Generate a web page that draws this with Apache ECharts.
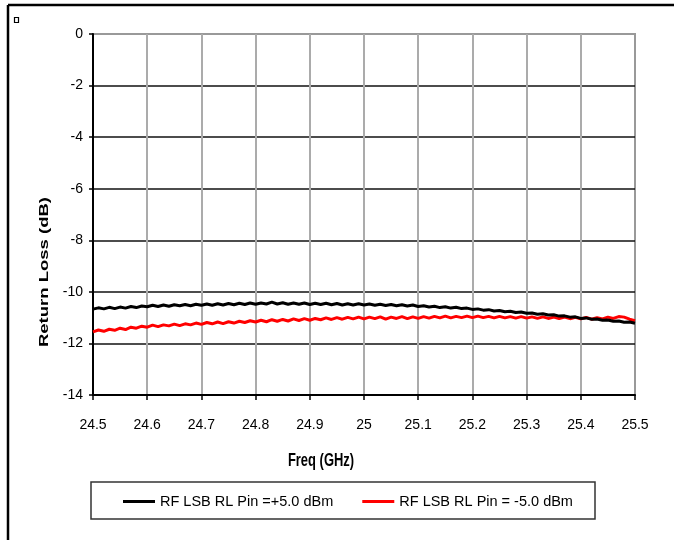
<!DOCTYPE html>
<html>
<head>
<meta charset="utf-8">
<script src="https://cdn.jsdelivr.net/npm/echarts@6/dist/echarts.min.js"></script>
<style>
  html, body { margin: 0; padding: 0; background: #fff; }
  #chart { width: 674px; height: 540px; }
</style>
</head>
<body>
<div id="chart"></div>
<script>
// Frequency sweep points (GHz)
const freqGHz = [
  24.50, 24.51, 24.52, 24.53, 24.54, 24.55, 24.56, 24.57, 24.58, 24.59,
  24.60, 24.61, 24.62, 24.63, 24.64, 24.65, 24.66, 24.67, 24.68, 24.69,
  24.70, 24.71, 24.72, 24.73, 24.74, 24.75, 24.76, 24.77, 24.78, 24.79,
  24.80, 24.81, 24.82, 24.83, 24.84, 24.85, 24.86, 24.87, 24.88, 24.89,
  24.90, 24.91, 24.92, 24.93, 24.94, 24.95, 24.96, 24.97, 24.98, 24.99,
  25.00, 25.01, 25.02, 25.03, 25.04, 25.05, 25.06, 25.07, 25.08, 25.09,
  25.10, 25.11, 25.12, 25.13, 25.14, 25.15, 25.16, 25.17, 25.18, 25.19,
  25.20, 25.21, 25.22, 25.23, 25.24, 25.25, 25.26, 25.27, 25.28, 25.29,
  25.30, 25.31, 25.32, 25.33, 25.34, 25.35, 25.36, 25.37, 25.38, 25.39,
  25.40, 25.41, 25.42, 25.43, 25.44, 25.45, 25.46, 25.47, 25.48, 25.49,
  25.50
];

// RF LSB return loss, Pin = +5.0 dBm (dB)
const rlPlus5 = [
  -10.67, -10.62, -10.66, -10.60, -10.65, -10.59, -10.63, -10.57, -10.61, -10.55,
  -10.58, -10.52, -10.57, -10.51, -10.56, -10.50, -10.54, -10.49, -10.54, -10.48,
  -10.52, -10.47, -10.52, -10.46, -10.51, -10.45, -10.50, -10.44, -10.49, -10.43,
  -10.48, -10.43, -10.47, -10.40, -10.47, -10.42, -10.48, -10.43, -10.48, -10.43,
  -10.49, -10.44, -10.49, -10.44, -10.50, -10.45, -10.51, -10.46, -10.51, -10.46,
  -10.51, -10.47, -10.52, -10.48, -10.53, -10.49, -10.54, -10.50, -10.55, -10.51,
  -10.57, -10.54, -10.59, -10.56, -10.61, -10.58, -10.63, -10.60, -10.65, -10.63,
  -10.68, -10.66, -10.71, -10.69, -10.74, -10.72, -10.77, -10.75, -10.80, -10.78,
  -10.83, -10.82, -10.87, -10.85, -10.90, -10.89, -10.94, -10.93, -10.98, -10.97,
  -11.03, -11.01, -11.06, -11.05, -11.10, -11.09, -11.14, -11.13, -11.18, -11.17,
  -11.22
];

// RF LSB return loss, Pin = -5.0 dBm (dB)
const rlMinus5 = [
  -11.55, -11.48, -11.53, -11.45, -11.49, -11.41, -11.46, -11.37, -11.41, -11.33,
  -11.37, -11.29, -11.35, -11.28, -11.32, -11.25, -11.31, -11.24, -11.28, -11.21,
  -11.26, -11.19, -11.24, -11.17, -11.23, -11.16, -11.21, -11.14, -11.19, -11.12,
  -11.17, -11.10, -11.16, -11.08, -11.14, -11.07, -11.13, -11.05, -11.11, -11.04,
  -11.10, -11.03, -11.08, -11.01, -11.07, -11.00, -11.06, -10.99, -11.05, -10.98,
  -11.05, -10.98, -11.04, -10.97, -11.06, -10.98, -11.03, -10.96, -11.04, -10.97,
  -11.03, -10.96, -11.02, -10.95, -11.01, -10.94, -11.01, -10.95, -11.00, -10.94,
  -11.00, -10.94, -11.00, -10.95, -11.01, -10.95, -11.01, -10.96, -11.02, -10.96,
  -11.02, -10.97, -11.03, -10.97, -11.03, -10.98, -11.04, -10.98, -11.04, -10.99,
  -11.05, -10.99, -11.06, -11.00, -11.05, -10.98, -11.03, -10.96, -10.98, -11.06,
  -11.12
];

const seriesNames = ['RF LSB RL Pin =+5.0 dBm', 'RF LSB RL Pin = -5.0 dBm'];
const xTitle = 'Freq (GHz)';
const yTitle = 'Return Loss (dB)';

const pair = (xs, ys) => xs.map((x, i) => [x, ys[i]]);

const sans = '"Liberation Sans", Arial, sans-serif';

const chart = echarts.init(document.getElementById('chart'), null, { renderer: 'canvas' });

chart.setOption({
  animation: false,
  backgroundColor: '#fff',
  grid: {
    left: 93, top: 34, right: 39, bottom: 145,
    show: true, borderColor: '#999', borderWidth: 2, backgroundColor: 'transparent'
  },
  xAxis: {
    type: 'value',
    min: 24.5, max: 25.5, interval: 0.1,
    axisLine: { show: true, onZero: false, lineStyle: { color: '#000', width: 2 } },
    axisTick: { show: true, inside: false, length: 5, lineStyle: { color: '#000', width: 1.5 } },
    axisLabel: {
      color: '#000', fontFamily: sans, fontSize: 14, margin: 23,
      formatter: v => String(+v.toFixed(1))
    },
    splitLine: { show: true, showMinLine: false, showMaxLine: false, lineStyle: { color: '#ababab', width: 2 } }
  },
  yAxis: {
    type: 'value',
    min: -14, max: 0, interval: 2,
    axisLine: { show: true, onZero: false, lineStyle: { color: '#000', width: 2 } },
    axisTick: { show: true, inside: false, length: 4, lineStyle: { color: '#000', width: 1.5 } },
    axisLabel: { color: '#000', fontFamily: sans, fontSize: 14, margin: 10 },
    splitLine: { show: true, showMinLine: false, showMaxLine: false, lineStyle: { color: '#111', width: 1.5 } }
  },
  legend: {
    data: seriesNames,
    icon: 'rect',
    left: 123, top: 494, padding: 0,
    itemWidth: 32, itemHeight: 3, itemGap: 29,
    textStyle: { color: '#000', fontFamily: sans, fontSize: 14.5 }
  },
  series: [
    {
      name: seriesNames[0], type: 'line', data: pair(freqGHz, rlPlus5),
      symbol: 'none', lineStyle: { color: '#000', width: 3 }, itemStyle: { color: '#000' }, z: 3
    },
    {
      name: seriesNames[1], type: 'line', data: pair(freqGHz, rlMinus5),
      symbol: 'none', lineStyle: { color: '#ff0000', width: 3 }, itemStyle: { color: '#ff0000' }, z: 2
    }
  ],
  graphic: [
    // outer frame (top and left edges)
    { type: 'line', shape: { x1: 8, y1: 5, x2: 674, y2: 5 }, style: { stroke: '#000', lineWidth: 2.5 } },
    { type: 'line', shape: { x1: 8, y1: 5, x2: 8, y2: 540 }, style: { stroke: '#000', lineWidth: 2.5 } },
    // small handle square in the corner
    { type: 'rect', shape: { x: 14.5, y: 17.5, width: 4, height: 5 }, style: { fill: '#fff', stroke: '#000', lineWidth: 1.2 } },
    // legend box
    { type: 'rect', shape: { x: 91, y: 482, width: 504, height: 37 }, style: { fill: 'transparent', stroke: '#333', lineWidth: 1.5 }, z: 0 },
    // axis titles
    {
      type: 'text', x: 321, y: 461, scaleX: 0.7,
      style: { text: xTitle, font: 'bold 18.5px ' + sans, fill: '#000', textAlign: 'center', textVerticalAlign: 'middle' }
    },
    {
      type: 'text', x: 44, y: 272, rotation: Math.PI / 2, scaleY: 0.7,
      style: { text: yTitle, font: 'bold 18.5px ' + sans, fill: '#000', textAlign: 'center', textVerticalAlign: 'middle' }
    }
  ]
});
</script>
</body>
</html>
